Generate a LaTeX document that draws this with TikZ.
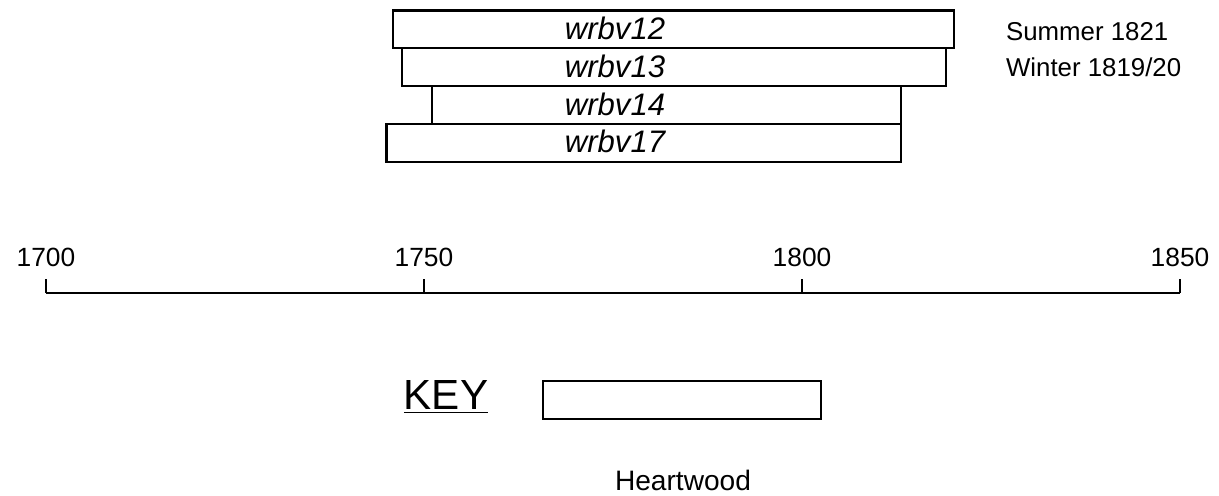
\documentclass[tikz,border=0pt]{standalone}
\usepackage{fontspec}
\setmainfont{Liberation Sans}
\usetikzlibrary{positioning}

\def\yearsep{7.56}
\def\barheight{37.8}

\begin{document}
\begin{tikzpicture}[x=0.02cm,y=-0.02cm,line width=1.2pt]
    \tikzstyle{series}=[draw,rectangle,inner sep=0pt,anchor=north west,line width=1.2pt]
    \tikzstyle{series label}=[font=\itshape\fontsize{17.7}{20}\selectfont]
    \tikzstyle{year}=[font=\fontsize{15}{18}\selectfont]
    \tikzstyle{note}=[font=\fontsize{14.7}{17}\selectfont, anchor=base west, inner sep=0pt]

    \useasboundingbox (0,0) rectangle (1219,496);

    % Draw the series bars
    \foreach \name / \first / \last / \row in {12/1745.8/1820/0, 13/1746.9/1818.9/1, 14/1750.9/1813/2, 17/1744.9/1813/3}
    {
        \pgfmathsetmacro{\xa}{46+(\first-1700)*\yearsep}
        \pgfmathsetmacro{\barwidth}{(\last-\first)*\yearsep*0.02}
        \node[series, minimum width=\barwidth cm, minimum height=0.756cm]
            (B-\name) at (\xa, 9.5+\row*\barheight) {};
        \node[series label] (L-\name) at (615, 28.4+\row*\barheight) {wrbv\name};
    }

    % Felling dates
    \node[note] (S-12) at (1005,40.7) {Summer 1821};
    \node[note] (S-13) at (1005,76.7) {Winter 1819/20};

    % Draw the time axis
    \foreach \yr in {1700,1750,1800,1850}
    {
        \pgfmathsetmacro{\xt}{46+(\yr-1700)*\yearsep}
        \coordinate (A-\yr) at (\xt,293);
        \coordinate (T-\yr) at (\xt,279);
        \node[year] (Y-\yr) at (\xt,257) {\yr};
        \draw (A-\yr) -- (T-\yr);
    }
    \draw (A-1700) -- (A-1850);

    % Key
    \node[font=\fontsize{24}{28}\selectfont] (key) at (446,397) {\underline{KEY}};
    \node[series, anchor=center, minimum width=5.56cm, minimum height=0.76cm] (K) at (682,400) {};
    \node[font=\fontsize{16}{19}\selectfont] (heart) at (683,480) {Heartwood};
\end{tikzpicture}
\end{document}
